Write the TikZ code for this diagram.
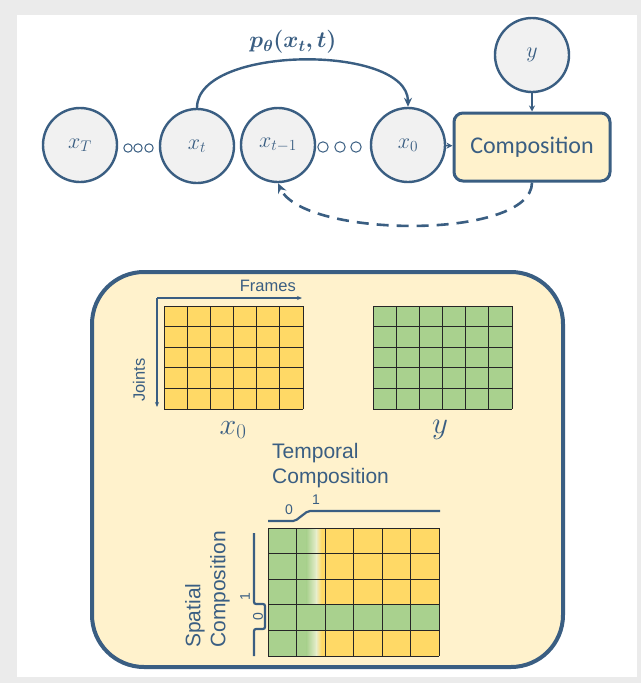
\RequirePackage{fix-cm}
\documentclass[tikz,border=0pt]{standalone}
\usepackage{fontspec}
\setmainfont{Liberation Sans}
\newfontfamily\calfont{Carlito}
\usepackage{bm}
\usetikzlibrary{arrows.meta}
\definecolor{steel}{RGB}{58,94,130}
\definecolor{nodegray}{RGB}{241,241,241}
\definecolor{bggray}{RGB}{235,235,235}
\definecolor{panelyellow}{RGB}{255,242,204}
\definecolor{gridyellow}{RGB}{255,217,102}
\definecolor{gridgreen}{RGB}{169,209,142}
\definecolor{palemix}{RGB}{232,238,205}
\begin{document}
\begin{tikzpicture}[x=1pt,y=-1pt,
  circ/.style={circle,draw=steel,fill=nodegray,line width=2.4pt,minimum size=74pt,inner sep=0pt,text=steel,font=\fontsize{22}{26}\selectfont},
  compbox/.style={rectangle,rounded corners=9pt,draw=steel,fill=panelyellow,line width=3pt,minimum width=156pt,minimum height=68pt,text=steel,font=\calfont\fontsize{24}{28}\selectfont},
  arr/.style={draw=steel,line width=2.4pt,-{Stealth[length=9pt,width=8pt]}},
  smallarr/.style={draw=steel,line width=1.6pt,-{Stealth[length=6pt,width=6pt]}},
  dasharr/.style={draw=steel,line width=2.6pt,dash pattern=on 12pt off 8pt,-{Stealth[length=10pt,width=9pt]}},
  dotc/.style={draw=steel,line width=1pt},
  thinarr/.style={draw=steel,line width=1.1pt,-{Stealth[length=5pt,width=4pt]}},
  lbl/.style={text=steel,inner sep=0pt},
  gridline/.style={draw=black!85,line width=0.9pt},
  stepline/.style={draw=steel,line width=2.2pt,rounded corners=2pt},
]
\useasboundingbox (0,0) rectangle (641,683);
\fill[bggray] (0,0) rectangle (641,683);
\fill[white] (17,15) rectangle (637,677);

% top chain
\node[circ] (xT) at (80,145) {$x_T$};
\node[circ] (xt) at (197,146) {$x_t$};
\node[circ] (xtm) at (278,145) {$x_{t-1}$};
\node[circ] (x0) at (408,145) {$x_0$};
\node[circ] (y) at (532,55) {$y$};
\node[compbox] (comp) at (532,147) {Composition};

\foreach \cx in {128,138,149} \draw[dotc] (\cx,148) circle (4.2pt);
\foreach \cx in {323,340,356} \draw[dotc] (\cx,147) circle (5.2pt);

\draw[arr] (xt.north) .. controls +(0,-63) and +(0,-63) .. (x0.north);
\node[lbl,font=\fontsize{23}{27}\selectfont] (plabel) at (293,42) {$\bm{p_{\theta}(x_t,t)}$};
\draw[smallarr] (x0) -- (comp);
\draw[smallarr] (y) -- (comp);
\draw[dasharr] (comp.south) .. controls +(0,58) and +(25,55) .. (xtm.south);

% bottom panel
\draw[steel,fill=panelyellow,line width=4pt,rounded corners=52pt] (92,272) rectangle (563,667);

% x0 grid
\fill[gridyellow] (164,306) rectangle (303,409);
\foreach \i in {0,...,6} \draw[gridline] ({164+\i*23.1667},306) -- ++(0,103);
\foreach \j in {0,...,5} \draw[gridline] (164,{306+\j*20.6}) -- ++(139,0);
\coordinate (fo) at (157,298);
\coordinate (fe) at (302,298);
\coordinate (je) at (157,407);
\draw[thinarr] (fo) -- (fe);
\draw[thinarr] (fo) -- (je);
\node[lbl,anchor=east,font=\fontsize{16.5}{18}\selectfont] (frames) at (296,286) {Frames};
\node[lbl,rotate=90,font=\fontsize{16.5}{18}\selectfont] (joints) at (139,380) {Joints};
\node[lbl,font=\fontsize{30}{32}\selectfont] (x0lab) at (233,430) {$x_0$};

% y grid
\fill[gridgreen] (373,306) rectangle (512,409);
\foreach \i in {0,...,6} \draw[gridline] ({373+\i*23.1667},306) -- ++(0,103);
\foreach \j in {0,...,5} \draw[gridline] (373,{306+\j*20.6}) -- ++(139,0);
\node[lbl,font=\fontsize{31}{33}\selectfont] (ylab) at (440,430) {$y$};

% temporal composition
\node[lbl,anchor=north west,align=left,font=\fontsize{21}{25}\selectfont] (temp) at (272,443) {Temporal\\Composition};
\coordinate (t0) at (268,521);
\coordinate (t1) at (295,521);
\coordinate (t2) at (308,511);
\coordinate (t3) at (440,511);
\draw[stepline] (t0) -- (t1) -- (t2) -- (t3);
\node[lbl,font=\fontsize{14}{16}\selectfont] (tz) at (289,510) {0};
\node[lbl,font=\fontsize{14}{16}\selectfont] (to) at (316,500) {1};

% combined grid
\fill[gridyellow] (268,528) rectangle (439,656);
\fill[gridgreen] (268,528) rectangle (307,656);
\shade[left color=gridgreen,right color=palemix] (306.5,528) rectangle (316.5,656);
\shade[left color=palemix,right color=gridyellow] (316,528) rectangle (321.5,656);
\fill[gridgreen] (268,604.8) rectangle (439,630.4);
\foreach \i in {0,...,6} \draw[gridline] ({268+\i*28.5},528) -- ++(0,128);
\foreach \j in {0,...,5} \draw[gridline] (268,{528+\j*25.6}) -- ++(171,0);

% spatial composition
\coordinate (s0) at (254,533);
\coordinate (s1) at (254,604);
\coordinate (s2) at (265,604);
\coordinate (s3) at (265,629);
\coordinate (s4) at (254,629);
\coordinate (s5) at (254,656);
\draw[stepline] (s0) -- (s1) -- (s2) -- (s3) -- (s4) -- (s5);
\node[lbl,rotate=90,font=\fontsize{14}{16}\selectfont] (so) at (245,597) {1};
\node[lbl,rotate=90,font=\fontsize{14}{16}\selectfont] (sz) at (258,617) {0};
\node[lbl,rotate=90,anchor=south west,align=left,font=\fontsize{21}{25}\selectfont] (spat) at (230,648) {Spatial\\Composition};
\end{tikzpicture}
\end{document}
